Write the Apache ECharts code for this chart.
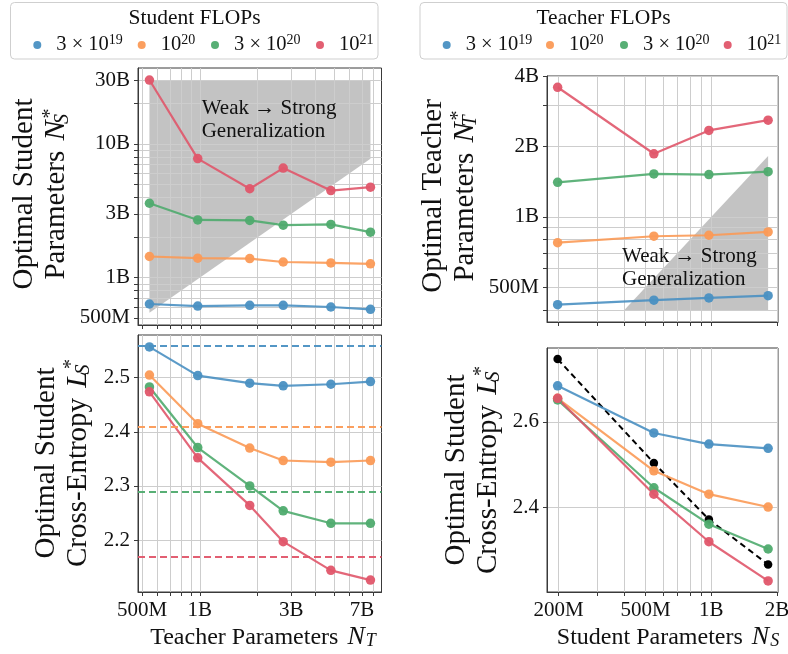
<!DOCTYPE html>
<html><head><meta charset="utf-8">
<script src="https://cdn.jsdelivr.net/npm/echarts@6/dist/echarts.min.js"></script>
<style>html,body{margin:0;padding:0;background:#fff}#c{width:788px;height:654px}</style>
</head><body><div id="c"></div>
<script>
// ---------------- data ----------------
const flopKeys = ['f3e19', 'f1e20', 'f3e20', 'f1e21'];
const flopLabels = ['3 × 10{sup|19}', '10{sup|20}', '3 × 10{sup|20}', '10{sup|21}'];
const colors = ['#4a90c2', '#fb9a56', '#4fab6e', '#e0566a'];

const teacherParams = [546e6, 975e6, 1.82e9, 2.72e9, 4.82e9, 7.75e9];
const studentParams = [198e6, 546e6, 975e6, 1.82e9];

// top-left: optimal student params vs teacher params (per student FLOPs)
const nS_3e19 = [636e6, 614e6, 622e6, 622e6, 604e6, 580e6];
const nS_1e20 = [1.44e9, 1.40e9, 1.39e9, 1.31e9, 1.29e9, 1.27e9];
const nS_3e20 = [3.6e9, 2.7e9, 2.68e9, 2.47e9, 2.5e9, 2.19e9];
const nS_1e21 = [30e9, 7.76e9, 4.62e9, 6.59e9, 4.48e9, 4.75e9];

// bottom-left: optimal student cross-entropy vs teacher params
const lS_3e19 = [2.557, 2.504, 2.490, 2.485, 2.488, 2.493];
const lS_1e20 = [2.505, 2.415, 2.370, 2.347, 2.344, 2.347];
const lS_3e20 = [2.483, 2.371, 2.300, 2.254, 2.231, 2.231];
const lS_1e21 = [2.474, 2.352, 2.264, 2.197, 2.144, 2.126];
const lS_baseline = [2.557, 2.4135, 2.292, 2.171];

// top-right: optimal teacher params vs student params (per teacher FLOPs)
const nT_3e19 = [421e6, 440e6, 450e6, 460e6];
const nT_1e20 = [775e6, 826e6, 834e6, 862e6];
const nT_3e20 = [1.404e9, 1.526e9, 1.515e9, 1.56e9];
const nT_1e21 = [3.58e9, 1.86e9, 2.34e9, 2.59e9];

// bottom-right: optimal student cross-entropy vs student params
const lR_ref  = [2.7465, 2.504, 2.372, 2.267];
const lR_3e19 = [2.684, 2.574, 2.548, 2.538];
const lR_1e20 = [2.655, 2.4855, 2.431, 2.401];
const lR_3e20 = [2.651, 2.446, 2.361, 2.303];
const lR_1e21 = [2.655, 2.431, 2.320, 2.2285];

// weak -> strong region bounds
const wsTopLeftCap = 30e9;
const wsTopRightFloor = 400e6;

// tick labels
const leftXTickVals = [5e8, 1e9, 3e9, 7e9];
const leftXTickText = ['500M', '1B', '3B', '7B'];
const rightXTickVals = [2e8, 5e8, 1e9, 2e9];
const rightXTickText = ['200M', '500M', '1B', '2B'];
const tlYTickVals = [5e8, 1e9, 3e9, 1e10, 3e10];
const tlYTickText = ['500M', '1B', '3B', '10B', '30B'];
const trYTickVals = [5e8, 1e9, 2e9, 4e9];
const trYTickText = ['500M', '1B', '2B', '4B'];
const blYTickVals = [2.2, 2.3, 2.4, 2.5];
const blYTickText = ['2.2', '2.3', '2.4', '2.5'];
const brYTickVals = [2.4, 2.6];
const brYTickText = ['2.4', '2.6'];

// ---------------- styling ----------------
const FONT = "'Liberation Serif','Times New Roman','DejaVu Serif',serif";
const gridColor = '#cdcdcd';
const spineColor = '#3a3a3a';
const grayFill = '#c3c3c3';

function logTickPositions(min, max) {
  const out = [];
  for (let k = Math.floor(Math.log10(min)); k <= Math.ceil(Math.log10(max)); k++) {
    for (let m = 1; m <= 9; m++) {
      const v = m * Math.pow(10, k);
      if (v >= min && v <= max) out.push(v);
    }
  }
  return out;
}
function makeFmt(vals, texts, isLog) {
  return function (v) {
    let val = (typeof v === 'object' && v !== null) ? v.value : v;
    if (isLog && val < 1000) val = Math.pow(10, val);
    let best = -1, bd = 1e9;
    for (let i = 0; i < vals.length; i++) {
      const d = isLog ? Math.abs(Math.log10(val) - Math.log10(vals[i])) : Math.abs(val - vals[i]);
      if (d < bd) { bd = d; best = i; }
    }
    return bd < (isLog ? 0.02 : 0.005) ? texts[best] : '';
  };
}
function logAxis(gi, min, max, lv, lt, showLabels) {
  return {
    type: 'log', logBase: 10, gridIndex: gi, min: min, max: max,
    axisLine: { show: true, onZero: false, lineStyle: { color: spineColor, width: 1 } },
    axisTick: { show: true, inside: false, length: 4, customValues: logTickPositions(min, max), lineStyle: { color: spineColor } },
    axisLabel: { show: showLabels, customValues: lv, formatter: makeFmt(lv, lt, true), fontFamily: FONT, fontSize: 21, color: '#111', margin: 8, hideOverlap: false },
    splitLine: { show: true, lineStyle: { color: gridColor, width: 1 } },
    minorTick: { show: false }, minorSplitLine: { show: false }
  };
}
function valAxis(gi, min, max, lv, lt) {
  return {
    type: 'value', gridIndex: gi, min: min, max: max,
    axisLine: { show: true, onZero: false, lineStyle: { color: spineColor, width: 1 } },
    axisTick: { show: true, inside: false, length: 4, customValues: lv, lineStyle: { color: spineColor } },
    axisLabel: { show: true, customValues: lv, formatter: makeFmt(lv, lt, false), fontFamily: FONT, fontSize: 21, color: '#111', margin: 8 },
    splitLine: { show: true, lineStyle: { color: gridColor, width: 1 } }
  };
}
function lineSeries(key, ci, xs, ys, idx, extra) {
  return Object.assign({
    type: 'line', name: key, xAxisIndex: idx, yAxisIndex: idx,
    data: xs.map((x, j) => [x, ys[j]]),
    symbol: 'circle', symbolSize: 9.5, showSymbol: true, showAllSymbol: true,
    itemStyle: { color: colors[ci], opacity: 0.95 },
    lineStyle: { color: colors[ci], width: 2.2, opacity: 0.9 },
    emphasis: { disabled: true }, silent: true, animation: false, z: 3
  }, extra || {});
}
function polySeries(idx, verts) {
  return {
    type: 'custom', xAxisIndex: idx, yAxisIndex: idx, z: -1, silent: true, animation: false,
    data: verts, encode: { x: 0, y: 1 },
    renderItem: function (params, api) {
      if (params.dataIndex !== 0) return null;
      return { type: 'polygon', shape: { points: verts.map(v => api.coord(v)) }, style: { fill: grayFill } };
    }
  };
}

const grids = [
  { left: 138, top: 68, width: 243.5, height: 257 },
  { left: 138, top: 335, width: 243.5, height: 257 },
  { left: 547, top: 76, width: 231, height: 246 },
  { left: 547, top: 348, width: 231, height: 244 }
].map(g => Object.assign(g, { show: true, borderColor: spineColor, borderWidth: 1, backgroundColor: 'transparent', containLabel: false, outerBoundsMode: 'none' }));

const xAxes = [
  logAxis(0, 476e6, 8.85e9, leftXTickVals, leftXTickText, false),
  logAxis(1, 476e6, 8.85e9, leftXTickVals, leftXTickText, true),
  logAxis(2, 177e6, 2.02e9, rightXTickVals, rightXTickText, false),
  logAxis(3, 177e6, 2.02e9, rightXTickVals, rightXTickText, true)
];
const yAxes = [
  logAxis(0, 443e6, 36.9e9, tlYTickVals, tlYTickText, true),
  valAxis(1, 2.104, 2.579, blYTickVals, blYTickText),
  logAxis(2, 355e6, 4.0e9, trYTickVals, trYTickText, true),
  valAxis(3, 2.2026, 2.7724, brYTickVals, brYTickText)
];

const nSLists = [nS_3e19, nS_1e20, nS_3e20, nS_1e21];
const lSLists = [lS_3e19, lS_1e20, lS_3e20, lS_1e21];
const nTLists = [nT_3e19, nT_1e20, nT_3e20, nT_1e21];
const lRLists = [lR_3e19, lR_1e20, lR_3e20, lR_1e21];

const T0 = teacherParams[0], T5 = teacherParams[teacherParams.length - 1];
const S3 = studentParams[studentParams.length - 1];
const series = [
  polySeries(0, [[T0, T0], [T0, wsTopLeftCap], [T5, wsTopLeftCap], [T5, T5]]),
  polySeries(2, [[wsTopRightFloor, wsTopRightFloor], [S3, S3], [S3, wsTopRightFloor]])
];
flopKeys.forEach((k, i) => series.push(lineSeries(k, i, teacherParams, nSLists[i], 0)));
flopKeys.forEach((k, i) => series.push(lineSeries(k, i, teacherParams, lSLists[i], 1, {
  markLine: { silent: true, symbol: 'none', animation: false, label: { show: false },
    lineStyle: { color: colors[i], type: [7, 4], width: 2, opacity: 0.95 },
    emphasis: { disabled: true }, data: [{ yAxis: lS_baseline[i] }] }
})));
series.push({
  type: 'line', name: 'ref', xAxisIndex: 3, yAxisIndex: 3,
  data: studentParams.map((x, j) => [x, lR_ref[j]]),
  symbol: 'circle', symbolSize: 8.5, itemStyle: { color: '#000' },
  lineStyle: { color: '#000', width: 2, type: [6, 4] }, silent: true, animation: false, z: 2
});
flopKeys.forEach((k, i) => series.push(lineSeries(k, i, studentParams, nTLists[i], 2)));
flopKeys.forEach((k, i) => series.push(lineSeries(k, i, studentParams, lRLists[i], 3)));

// legends: one component per item so positions match
const legendCenters = [[37.3, 141.7, 215, 320], [446.7, 550, 624, 727.7]];
const legends = [];
legendCenters.forEach(row => row.forEach((cx, i) => {
  legends.push({
    data: [flopKeys[i]], left: cx - 4, top: 33, padding: 0, orient: 'horizontal',
    icon: 'circle', itemWidth: 28, itemHeight: 8, selectedMode: false,
    formatter: name => flopLabels[flopKeys.indexOf(name)],
    textStyle: { fontFamily: FONT, fontSize: 20.5, color: '#111', lineHeight: 24,
      rich: { sup: { fontFamily: FONT, fontSize: 14, lineHeight: 14, verticalAlign: 'top', color: '#111' } } }
  });
}));

const mathRich = (fs, subFs) => ({
  i: { fontFamily: FONT, fontStyle: 'italic', fontSize: fs, padding: [0, 1, 0, 3], fill: '#111' },
  sub: { fontFamily: FONT, fontStyle: 'italic', fontSize: subFs, lineHeight: Math.round(subFs * 0.62), verticalAlign: 'bottom', fill: '#111' },
  subz: { fontFamily: FONT, fontStyle: 'italic', fontSize: subFs, lineHeight: Math.round(subFs * 0.62), verticalAlign: 'bottom', width: 1, fill: '#111' },
  sup: { fontFamily: FONT, fontSize: subFs, lineHeight: subFs, verticalAlign: 'top', fill: '#111' }
});

function yTitle(x, y, l1, l2) {
  return {
    type: 'text', x: x, y: y, rotation: Math.PI / 2, silent: true, z: 10,
    style: {
      text: l1 + '\n' + l2, fontFamily: FONT, fontSize: 29, lineHeight: 32, fill: '#111',
      align: 'center', verticalAlign: 'middle', textAlign: 'center', textVerticalAlign: 'middle',
      rich: mathRich(30, 20)
    }
  };
}
function xTitle(x, y, txt) {
  return {
    type: 'text', x: x, y: y, silent: true, z: 10,
    style: {
      text: txt, fontFamily: FONT, fontSize: 24, lineHeight: 26, fill: '#111',
      align: 'center', verticalAlign: 'middle', textAlign: 'center', textVerticalAlign: 'middle',
      rich: mathRich(26, 18)
    }
  };
}
function note(x, y) {
  return {
    type: 'text', x: x, y: y, silent: true, z: 10,
    style: { text: 'Weak → Strong\nGeneralization', fontFamily: FONT, fontSize: 21, lineHeight: 22.5, fill: '#111',
      align: 'left', verticalAlign: 'top', textAlign: 'left', textVerticalAlign: 'top' }
  };
}
function legendBox(x0, x1, cx, title) {
  return [
    { type: 'rect', z: 0, silent: true, shape: { x: x0, y: 2.5, width: x1 - x0, height: 56.5, r: 4 }, style: { fill: '#fff', stroke: '#cfcfcf', lineWidth: 1 } },
    { type: 'text', z: 1, silent: true, x: cx, y: 18.5, style: { text: title, fontFamily: FONT, fontSize: 21.5, fill: '#111', align: 'center', verticalAlign: 'middle', textAlign: 'center', textVerticalAlign: 'middle' } }
  ];
}

const graphics = [].concat(
  legendBox(10.5, 378, 194.5, 'Student FLOPs'),
  legendBox(420, 787, 603.5, 'Teacher FLOPs'),
  [
    yTitle(40.5, 194, 'Optimal Student', 'Parameters {i|N}{subz|S}{sup|*}'),
    yTitle(62, 463, 'Optimal Student', 'Cross-Entropy {i|L}{subz|S}{sup|*}'),
    yTitle(449, 196, 'Optimal Teacher', 'Parameters {i|N}{subz|T}{sup|*}'),
    yTitle(472, 470, 'Optimal Student', 'Cross-Entropy {i|L}{subz|S}{sup|*}'),
    xTitle(263, 637.5, 'Teacher Parameters {i|N}{sub|T}'),
    xTitle(668, 637.5, 'Student Parameters {i|N}{sub|S}'),
    note(201.7, 97.6),
    note(622, 245.6)
  ]
);

const chart = echarts.init(document.getElementById('c'), null, { renderer: 'canvas' });
chart.setOption({
  animation: false,
  backgroundColor: '#fff',
  textStyle: { fontFamily: FONT },
  grid: grids, xAxis: xAxes, yAxis: yAxes,
  legend: legends,
  graphic: { elements: graphics },
  series: series
});
</script></body></html>
